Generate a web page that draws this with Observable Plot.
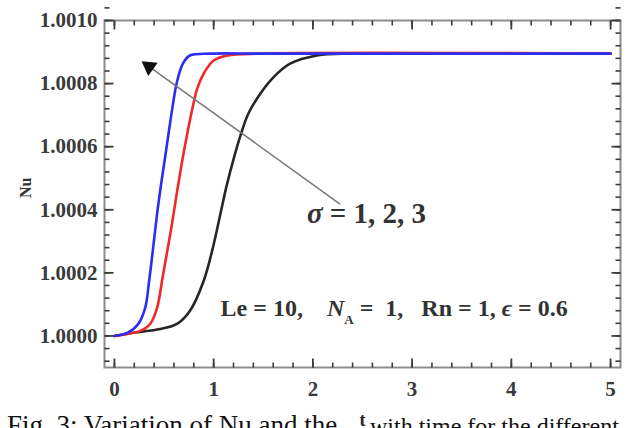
<!DOCTYPE html>
<html>
<head>
<meta charset="utf-8">
<script src="https://cdn.jsdelivr.net/npm/d3@7"></script>
<script src="https://cdn.jsdelivr.net/npm/@observablehq/plot@0.6"></script>
<style>
  body { margin: 0; background: #fff; overflow: hidden; width: 628px; height: 428px; position: relative; }
  #chart svg { display: block; }
  .caption { position: absolute; font-family: "Liberation Serif", serif; color: #111; white-space: pre; }
</style>
</head>
<body>
<div id="chart"></div>
<div class="caption" style="left: 7px; top: 410px; font-size: 27px;">Fig. 3: Variation of Nu and the</div>
<div class="caption" style="left: 370px; top: 413px; font-size: 24px;">with time for the different</div>
<script>
// Nusselt number Nu against time t, for sigma = 1 (black), 2 (red), 3 (blue)
const tSigma1 = [0, 0.19, 0.46, 0.63, 0.76, 0.90, 1.00, 1.07, 1.13, 1.20, 1.27, 1.35, 1.47, 1.60, 1.77, 2.04, 2.40, 3.0, 5.0];
const nuSigma1 = [1.0000000, 1.0000100, 1.0000220, 1.0000380, 1.0000790, 1.0001750, 1.0002900, 1.0003900, 1.0004750,
                  1.0005600, 1.0006350, 1.0007050, 1.0007680, 1.0008190, 1.0008630, 1.0008890, 1.0008950, 1.0008950, 1.0008950];

const tSigma2 = [0, 0.13, 0.26, 0.36, 0.43, 0.48, 0.53, 0.58, 0.63, 0.68, 0.73, 0.785, 0.835, 0.90, 1.0, 1.14, 1.47, 5.0];
const nuSigma2 = [1.0000000, 1.0000060, 1.0000160, 1.0000380, 1.0000890, 1.0001750, 1.0002650, 1.0003550, 1.0004550,
                  1.0005500, 1.0006350, 1.0007200, 1.0007850, 1.0008320, 1.0008730, 1.0008890, 1.0008950, 1.0008950];

const tSigma3 = [0, 0.13, 0.24, 0.31, 0.35, 0.39, 0.43, 0.47, 0.51, 0.56, 0.59, 0.63, 0.69, 0.76, 0.97, 1.5, 5.0];
const nuSigma3 = [1.0000000, 1.0000095, 1.0000380, 1.0000890, 1.0001750, 1.0002790, 1.0003870, 1.0004800, 1.0005650,
                  1.0006730, 1.0007350, 1.0008050, 1.0008630, 1.0008890, 1.0008950, 1.0008950, 1.0008950];

const seriesNames = ["σ = 1", "σ = 2", "σ = 3"];
const seriesColors = ["#262626", "#f02828", "#2c2cf2"];

// axis ticks
const xTickValues = [0, 1, 2, 3, 4, 5];
const yTickValues = [1.0000, 1.0002, 1.0004, 1.0006, 1.0008, 1.0010];
const xMinorTicks = d3.range(0, 26).map(k => k * 0.2);
const yMinorTicks = d3.range(-2, 28).map(k => 1 + k * 0.00004);

// annotation texts
const sigmaLabel = "σ = 1, 2, 3";
const paramParts = [
  ["Le = 10,    ", null],
  ["N", "italic"],
  ["A", "sub"],
  [" =  1,   Rn = 1, ", null],
  ["ϵ", "italic"],
  [" = 0.6", null]
];
const paramLabel = paramParts.map(p => p[0]).join("");

// arrow from the sigma label towards increasing sigma
const arrowFrom = {t: 2.27, nu: 1.000419};
const arrowTo = {t: 0.35, nu: 1.0008537};

const rows = [];
[[tSigma1, nuSigma1], [tSigma2, nuSigma2], [tSigma3, nuSigma3]].forEach(([ts, nus], i) => {
  ts.forEach((t, j) => rows.push({series: seriesNames[i], t, nu: nus[j]}));
});

const W = 628, H = 428, mL = 104, mR = 8, mT = 20, mB = 61;
const plotW = W - mL - mR, plotH = H - mT - mB;
const xDomain = [-0.1, 5.1];
const yDomain = [0.9999, 1.0010];
const xPerPx = (xDomain[1] - xDomain[0]) / plotW;
const yPerPx = (yDomain[1] - yDomain[0]) / plotH;
const tickStroke = "#3c3c3c";
const labelFill = "#3a3a3a";

// inward ticks on all four sides of the frame (len in pixels)
function xFrameTicks(ticks, len, width) {
  const opts = {x1: d => d, x2: d => d, stroke: tickStroke, strokeWidth: width};
  return [
    Plot.link(ticks, {...opts, y1: () => yDomain[0], y2: () => yDomain[0] + len * yPerPx}),
    Plot.link(ticks, {...opts, y1: () => yDomain[1], y2: () => yDomain[1] - len * yPerPx})
  ];
}
function yFrameTicks(ticks, len, width) {
  const opts = {y1: d => d, y2: d => d, stroke: tickStroke, strokeWidth: width};
  return [
    Plot.link(ticks, {...opts, x1: () => xDomain[0], x2: () => xDomain[0] + len * xPerPx}),
    Plot.link(ticks, {...opts, x1: () => xDomain[1], x2: () => xDomain[1] - len * xPerPx})
  ];
}

const chart = Plot.plot({
  width: W,
  height: H,
  marginLeft: mL,
  marginRight: mR,
  marginTop: mT,
  marginBottom: mB,
  x: {domain: xDomain},
  y: {domain: yDomain},
  color: {domain: seriesNames, range: seriesColors},
  style: {fontFamily: '"Liberation Serif", "DejaVu Serif", serif', background: "white", overflow: "visible"},
  marks: [
    Plot.frame({stroke: "#8c8c8c", strokeWidth: 2, fill: "none"}),
    // tick labels
    Plot.axisX({ticks: xTickValues, anchor: "bottom", tickSize: 0, tickPadding: 14, tickFormat: d3.format("d"),
      label: null, fill: labelFill, fontSize: 21, fontWeight: "bold"}),
    Plot.axisY({ticks: yTickValues, anchor: "left", tickSize: 0, tickPadding: 7, tickFormat: d3.format(".4f"),
      label: null, fill: labelFill, fontSize: 21, fontWeight: "bold"}),
    // curves
    Plot.line(rows, {x: "t", y: "nu", z: "series", stroke: "series", strokeWidth: 2.6, curve: "catmull-rom"}),
    // frame ticks, drawn over the frame
    ...xFrameTicks(xMinorTicks, 5, 1.6),
    ...xFrameTicks(xTickValues, 9, 1.8),
    ...yFrameTicks(yMinorTicks, 5, 1.6),
    ...yFrameTicks(yTickValues, 9, 1.8),
    // arrow
    Plot.arrow([0], {x1: () => arrowFrom.t, y1: () => arrowFrom.nu, x2: () => arrowTo.t, y2: () => arrowTo.nu,
      stroke: "#7a7a7a", strokeWidth: 1.6, headLength: 0}),
    Plot.dot([0], {x: () => arrowTo.t, y: () => arrowTo.nu, symbol: "triangle", r: 6, fill: "#111", stroke: "none", rotate: -54}),
    // annotations
    Plot.text([sigmaLabel], {x: 1.94, y: 1.000387, text: d => d, textAnchor: "start", fontSize: 29, fontWeight: "bold", fill: "#333"}),
    Plot.text([paramLabel], {x: 1.07, y: 1.0000889, text: d => d, textAnchor: "start", fontSize: 24, fontWeight: "bold", fill: "#333"}),
    // axis titles
    Plot.text(["Nu"], {frameAnchor: "left", dx: -79, dy: 4, rotate: -90, text: d => d, fontSize: 16, fontWeight: "bold", fill: "#333"}),
    Plot.text(["t"], {frameAnchor: "bottom", dy: 58, text: d => d, fontSize: 18, fontWeight: "bold", fill: "#222"})
  ]
});

document.getElementById("chart").appendChild(chart);

// rich text: italic sigma, italic N with subscript A, italic epsilon
d3.select(chart).selectAll("text").each(function () {
  const el = d3.select(this);
  const s = this.textContent;
  if (s === sigmaLabel) {
    el.text(null);
    el.append("tspan").attr("font-style", "italic").text("σ");
    el.append("tspan").text(sigmaLabel.slice(1));
  } else if (s === paramLabel) {
    el.text(null).style("white-space", "pre");
    for (const [str, kind] of paramParts) {
      const ts = el.append("tspan").text(str);
      if (kind === "italic") ts.attr("font-style", "italic");
      if (kind === "sub") ts.attr("font-size", 13).attr("baseline-shift", "sub");
    }
  }
});
</script>
</body>
</html>
